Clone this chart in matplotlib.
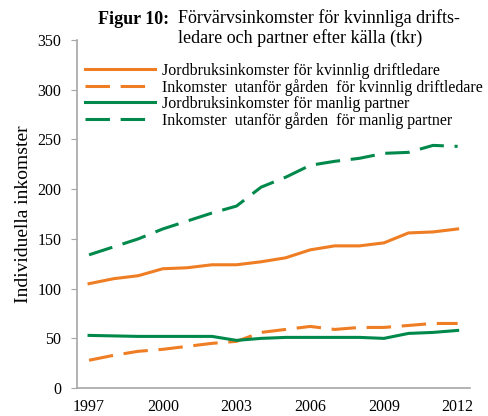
import matplotlib.pyplot as plt
import numpy as np

plt.rcParams['font.family'] = ['Liberation Serif', 'DejaVu Serif']

years = np.arange(1997, 2013)
# kvinnlig driftledare
jord_kvinna = [105, 110, 113, 120, 121, 124, 124, 127, 131, 139, 143, 143, 146, 156, 157, 160]
utan_kvinna = [28, 33, 37, 39, 42, 45, 47, 56, 59, 62, 59, 61, 61, 63, 65, 65]
# manlig partner
jord_man = [53, 52.5, 52, 52, 52, 52, 48, 50, 51, 51, 51, 51, 50, 55, 56, 58]
utan_man = [134, 142, 150, 160, 168, 176, 183, 202, 212, 224, 228, 231, 236, 237, 244, 243]

labels = ["Jordbruksinkomster för kvinnlig driftledare",
          "Inkomster  utanför gården  för kvinnlig driftledare",
          "Jordbruksinkomster för manlig partner",
          "Inkomster  utanför gården  för manlig partner"]

orange = '#EE7D23'
green = '#00894B'
dash = (8, 3.5)

fig = plt.figure(figsize=(4.89, 4.16), dpi=100)
ax = fig.add_axes([0.157, 0.067, 0.804, 0.837])

ax.plot(years, jord_kvinna, color=orange, lw=2.2, label=labels[0])
ax.plot(years, utan_kvinna, color=orange, lw=2.2, dashes=dash, label=labels[1])
ax.plot(years, jord_man, color=green, lw=2.2, label=labels[2])
ax.plot(years, utan_man, color=green, lw=2.2, dashes=dash, label=labels[3])

ax.set_xlim(1996.5, 2012.5)
ax.set_ylim(0, 350)
ax.set_yticks(range(0, 351, 50))
ax.set_xticks([1997, 2000, 2003, 2006, 2009, 2012])
ax.tick_params(axis='both', labelsize=11.5, color='#A6A6A6')
ax.tick_params(axis='x', length=0, pad=8)
ax.tick_params(axis='y', length=4, pad=7)
for s in ['top', 'right']:
    ax.spines[s].set_visible(False)
for s in ['left', 'bottom']:
    ax.spines[s].set_color('#A6A6A6')
    ax.spines[s].set_linewidth(1.2)

ax.set_ylabel('Individuella inkomster', fontsize=14, labelpad=4)

leg = ax.legend(loc='upper left', bbox_to_anchor=(85 / 489, 1 - 63 / 416),
                bbox_transform=fig.transFigure, frameon=False, fontsize=11.5,
                handlelength=4.4, handletextpad=0.45, labelspacing=0.0,
                borderaxespad=0, borderpad=0)

fig.text(98 / 489, 1 - 19 / 416, 'Figur 10:', fontsize=13, fontweight='bold',
         ha='left', va='center')
fig.text(178 / 489, 1 - 9 / 416,
         'Förvärvsinkomster för kvinnliga drifts-\nledare och partner efter källa (tkr)',
         fontsize=13, ha='left', va='top', linespacing=1.15)

fig.savefig('out.png', dpi=100)
